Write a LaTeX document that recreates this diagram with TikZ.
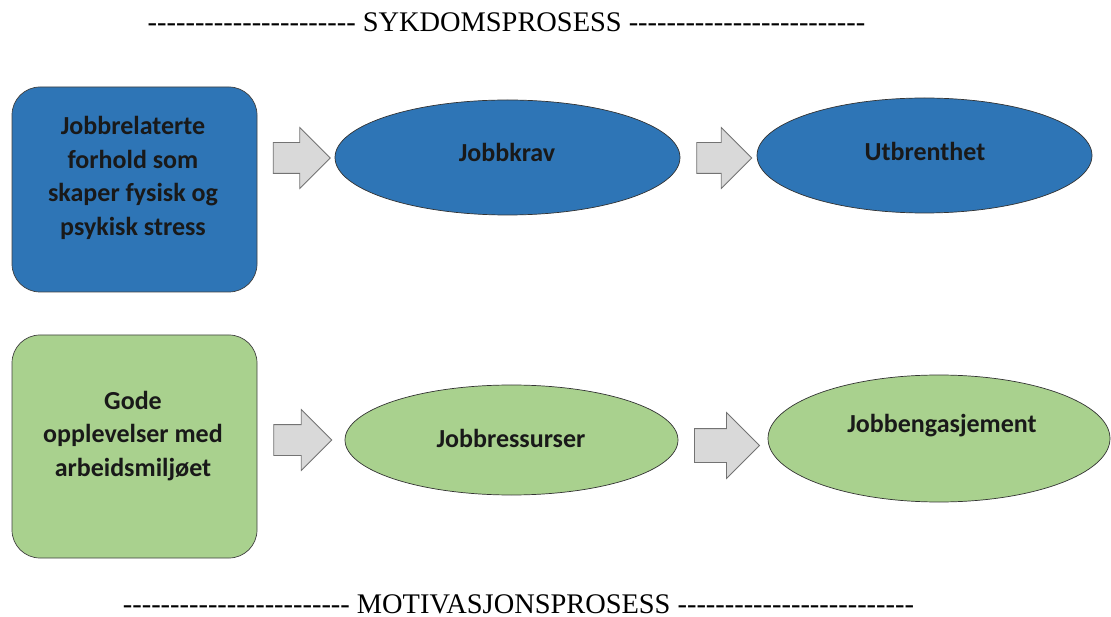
\documentclass[tikz,border=0pt]{standalone}
\usepackage{fontspec}
\setmainfont{Carlito}
\newfontfamily\overskrift{Liberation Serif}
\usetikzlibrary{shapes.geometric,shapes.arrows}
\definecolor{blaa}{RGB}{46,117,182}
\definecolor{groenn}{RGB}{169,209,142}
\definecolor{pilgraa}{RGB}{217,217,217}
\tikzset{
  boks/.style={draw=black!75, line width=0.7pt, rounded corners=28pt, minimum width=245pt},
  oval/.style={ellipse, draw=black!80, line width=0.7pt, inner sep=0pt},
  pil/.style={single arrow, draw=black!55, fill=pilgraa, line width=0.8pt, inner sep=0pt,
    text height=15pt, text depth=15pt, single arrow head extend=15pt,
    minimum width=60pt, minimum height=57pt},
  tekst/.style={font=\bfseries\fontsize{26}{33.5}\selectfont, align=center, text=black!90},
  tittel/.style={font=\overskrift\fontsize{28.4}{30}\selectfont, inner sep=0pt}
}
\begin{document}
\begin{tikzpicture}[x=1pt, y=-1pt]
            \useasboundingbox (0,0) rectangle (1111,617);

            % Overskrifter
            \node[tittel] (sykdom) at (506.5,22) {---------------------- SYKDOMSPROSESS -------------------------};
            \node[tittel] (motivasjon) at (518.5,604) {------------------------ MOTIVASJONSPROSESS -------------------------};

            % Sykdomsprosessen
            \node[boks, fill=blaa, minimum height=205pt] (stress) at (134.5,189.5) {};
            \node[tekst] (stresstekst) at (133,178) {Jobbrelaterte\\forhold som\\skaper fysisk og\\psykisk stress};

            \node[pil] (pil1) at (294,158) {};

            \node[oval, fill=blaa, minimum width=345pt, minimum height=115pt] (krav) at (507.5,157.5) {};
            \node[tekst] (kravtekst) at (507,152) {Jobbkrav};

            \node[pil, minimum height=55pt] (pil2) at (716.5,158) {};

            \node[oval, fill=blaa, minimum width=335pt, minimum height=115pt] (utbrent) at (924.5,155.5) {};
            \node[tekst] (utbrenttekst) at (925,151) {Utbrenthet};

            % Motivasjonsprosessen
            \node[boks, fill=groenn, minimum height=223pt] (miljo) at (134.5,446.5) {};
            \node[tekst] (miljotekst) at (133,436) {Gode\\opplevelser med\\arbeidsmiljøet};

            \node[pil, minimum height=58pt] (pil3) at (295,440) {};

            \node[oval, fill=groenn, minimum width=333pt, minimum height=110pt] (ressurs) at (511.5,440) {};
            \node[tekst] (ressurstekst) at (511,438) {Jobbressurser};

            \node[pil, minimum height=65pt, minimum width=65pt, text height=16.5pt, text depth=16.5pt,
              single arrow head extend=16pt] (pil4) at (718.5,445.5) {};

            \node[oval, fill=groenn, minimum width=342pt, minimum height=127pt] (engasjement) at (939,438.5) {};
            \node[tekst] (engasjementtekst) at (942,426) {Jobbengasjement};

\end{tikzpicture}
\end{document}
